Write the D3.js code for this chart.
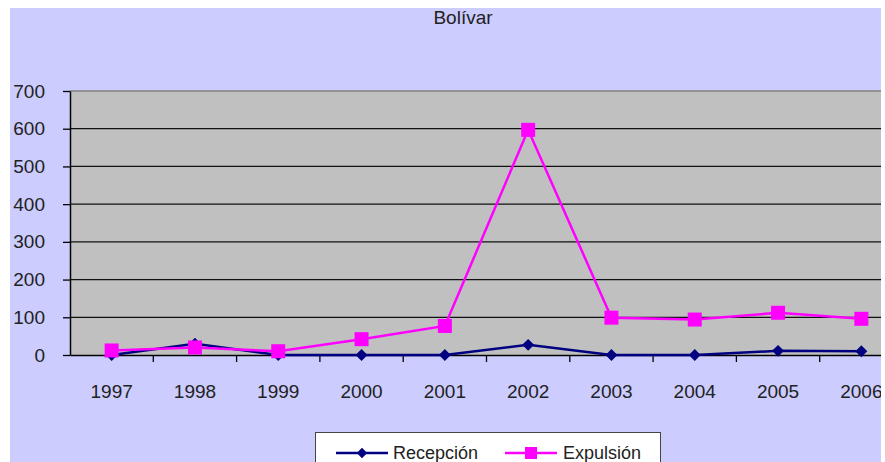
<!DOCTYPE html>
<html>
<head>
<meta charset="utf-8">
<script src="https://cdn.jsdelivr.net/npm/d3@7"></script>
<style>
  body { margin: 0; background: #fff; }
  svg { display: block; font-family: "Liberation Sans", Arial, sans-serif; }
</style>
</head>
<body>
<div id="chart"></div>
<script>
// data
var years = ["1997", "1998", "1999", "2000", "2001", "2002", "2003", "2004", "2005", "2006"];
var recepcion = [0, 30, 0, 0, 0, 27, 0, 0, 11, 10];
var expulsion = [12, 20, 10, 42, 77, 597, 99, 94, 112, 96];
var yTicks = [0, 100, 200, 300, 400, 500, 600, 700];

var svgWidth = 885;
var svgHeight = 462;

// plot area (right side runs past the picture edge and is clipped)
var plot = { left: 70, right: 903, top: 91, bottom: 355 };
var visibleRight = 881;

var svg = d3.select("#chart")
  .append("svg")
  .attr("width", svgWidth)
  .attr("height", svgHeight);

svg.append("clipPath").attr("id", "clip")
  .append("rect")
  .attr("x", 0).attr("y", 0)
  .attr("width", visibleRight).attr("height", svgHeight);

var g = svg.append("g").attr("clip-path", "url(#clip)");

// lavender background
g.append("rect")
  .attr("x", 10).attr("y", 8)
  .attr("width", visibleRight - 10 + 1).attr("height", svgHeight - 8)
  .attr("fill", "#ccccff");

// title
g.append("text")
  .attr("x", 463).attr("y", 24)
  .attr("text-anchor", "middle")
  .attr("font-size", "19px")
  .attr("fill", "#222")
  .text("Bolívar");

// scales
var x = d3.scaleBand()
  .domain(years)
  .range([plot.left, plot.right]);

var y = d3.scaleLinear()
  .domain([0, 700])
  .range([plot.bottom, plot.top]);

// grey plot area
g.append("rect")
  .attr("x", plot.left).attr("y", plot.top)
  .attr("width", plot.right - plot.left).attr("height", plot.bottom - plot.top)
  .attr("fill", "#c0c0c0");

g.append("line")
  .attr("x1", plot.left).attr("x2", plot.right)
  .attr("y1", plot.top).attr("y2", plot.top)
  .attr("stroke", "#808080").attr("stroke-width", 1.5);

// gridlines
g.append("g").selectAll("line")
  .data(yTicks.filter(d => d > 0 && d < 700))
  .enter()
  .append("line")
  .attr("x1", plot.left).attr("x2", plot.right)
  .attr("y1", d => y(d)).attr("y2", d => y(d))
  .attr("stroke", "#111").attr("stroke-width", 1.3);

// y axis
var leftAxis = d3.axisLeft(y)
  .tickValues(yTicks)
  .tickSize(7)
  .tickPadding(18)
  .tickSizeOuter(0);

var yAxisG = g.append("g")
  .attr("transform", `translate(${plot.left}, 0)`)
  .call(leftAxis);
yAxisG.select(".domain").attr("stroke", "#000").attr("stroke-width", 1.5);
yAxisG.selectAll(".tick line").attr("stroke", "#000").attr("stroke-width", 1.3);
yAxisG.selectAll(".tick text")
  .attr("font-size", "19px")
  .attr("fill", "#222")
  .attr("font-family", "Liberation Sans, Arial, sans-serif");

// x axis: labels at category centres, ticks at category edges
var bottomAxis = d3.axisBottom(x)
  .tickSize(0)
  .tickPadding(30)
  .tickSizeOuter(0);

var xAxisG = g.append("g")
  .attr("transform", `translate(0, ${plot.bottom})`)
  .call(bottomAxis);
xAxisG.select(".domain").attr("stroke", "#000").attr("stroke-width", 1.5);
xAxisG.selectAll(".tick text")
  .attr("font-size", "19px")
  .attr("fill", "#222")
  .attr("font-family", "Liberation Sans, Arial, sans-serif");

g.append("g").selectAll("line")
  .data(years.slice(1).concat(["end"]))
  .enter()
  .append("line")
  .attr("x1", d => d === "end" ? plot.right : x(d))
  .attr("x2", d => d === "end" ? plot.right : x(d))
  .attr("y1", plot.bottom).attr("y2", plot.bottom + 7)
  .attr("stroke", "#000").attr("stroke-width", 1.3);

var cx = d => x(d) + x.bandwidth() / 2;

var line = d3.line()
  .x(d => cx(d.year))
  .y(d => y(d.value));

var recData = years.map((yr, i) => ({ year: yr, value: recepcion[i] }));
var expData = years.map((yr, i) => ({ year: yr, value: expulsion[i] }));

// Recepción
g.append("path")
  .datum(recData)
  .attr("d", line)
  .attr("fill", "none")
  .attr("stroke", "#000080")
  .attr("stroke-width", 2.5);

g.append("g").selectAll("path")
  .data(recData)
  .enter()
  .append("path")
  .attr("d", d3.symbol().type(d3.symbolDiamond2).size(90))
  .attr("transform", d => `translate(${cx(d.year)}, ${y(d.value)})`)
  .attr("fill", "#000080");

// Expulsión
g.append("path")
  .datum(expData)
  .attr("d", line)
  .attr("fill", "none")
  .attr("stroke", "#ff00ff")
  .attr("stroke-width", 2.5);

g.append("g").selectAll("rect")
  .data(expData)
  .enter()
  .append("rect")
  .attr("x", d => cx(d.year) - 7)
  .attr("y", d => y(d.value) - 7)
  .attr("width", 14).attr("height", 14)
  .attr("fill", "#ff00ff");

// legend
var legend = g.append("g");
legend.append("rect")
  .attr("x", 315.5).attr("y", 432.5)
  .attr("width", 345).attr("height", 40)
  .attr("fill", "#fff")
  .attr("stroke", "#444").attr("stroke-width", 1);

var legendItems = [
  { name: "Recepción", color: "#000080", x1: 336, x2: 388, tx: 393, shape: "diamond" },
  { name: "Expulsión", color: "#ff00ff", x1: 505, x2: 557, tx: 563, shape: "square" }
];

legendItems.forEach(function(item) {
  legend.append("line")
    .attr("x1", item.x1).attr("x2", item.x2)
    .attr("y1", 453).attr("y2", 453)
    .attr("stroke", item.color).attr("stroke-width", 2.5);
  var mid = (item.x1 + item.x2) / 2;
  if (item.shape === "diamond") {
    legend.append("path")
      .attr("d", d3.symbol().type(d3.symbolDiamond2).size(70))
      .attr("transform", `translate(${mid}, 453)`)
      .attr("fill", item.color);
  } else {
    legend.append("rect")
      .attr("x", mid - 6).attr("y", 447)
      .attr("width", 12).attr("height", 12)
      .attr("fill", item.color);
  }
  legend.append("text")
    .attr("x", item.tx).attr("y", 459)
    .attr("font-size", "18px")
    .attr("fill", "#222")
    .text(item.name);
});
</script>
</body>
</html>
